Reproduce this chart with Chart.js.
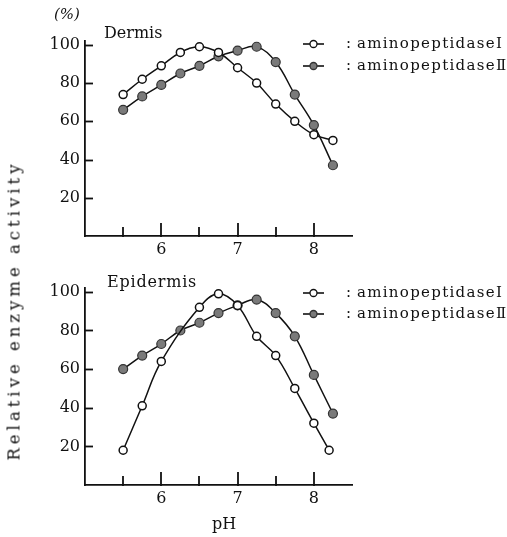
<!DOCTYPE html>
<html>
<head>
<meta charset="utf-8">
<script src="https://cdn.jsdelivr.net/npm/chart.js@4.4.0/dist/chart.umd.min.js"></script>
<style>
  body { margin: 0; background: #fff; width: 507px; height: 537px; overflow: hidden; position: relative; font-family: 'DejaVu Serif', serif; }
  canvas { position: absolute; left: 0; }
  #c1 { top: 0; }
  #c2 { top: 262px; }
  .txt { position: absolute; color: #111; white-space: nowrap; }
  #ytitle { left: -166px; top: 301px; width: 360px; text-align: center; transform: rotate(-90deg); font-size: 16.5px; letter-spacing: 4px; }
  #pct { left: 54px; top: 5px; font-size: 15px; font-style: italic; }
  #ph { left: 212px; top: 514px; font-size: 16px; }
</style>
</head>
<body>
<canvas id="c1" width="507" height="262"></canvas>
<canvas id="c2" width="507" height="275"></canvas>
<div class="txt" id="ytitle">Relative enzyme activity</div>
<div class="txt" id="pct">(%)</div>
<div class="txt" id="ph">pH</div>
<script>
// --- Data ---
const dermisPhI = [5.5, 5.75, 6.0, 6.25, 6.5, 6.75, 7.0, 7.25, 7.5, 7.75, 8.0, 8.25];
const dermisI = [74, 82, 89, 96, 99, 96, 88, 80, 69, 60, 53, 50];
const dermisPhII = [5.5, 5.75, 6.0, 6.25, 6.5, 6.75, 7.0, 7.25, 7.5, 7.75, 8.0, 8.25];
const dermisII = [66, 73, 79, 85, 89, 94, 97, 99, 91, 74, 58, 37];

const epiPhI = [5.5, 5.75, 6.0, 6.5, 6.75, 7.0, 7.25, 7.5, 7.75, 8.0, 8.2];
const epiI = [18, 41, 64, 92, 99, 93, 77, 67, 50, 32, 18];
const epiPhII = [5.5, 5.75, 6.0, 6.25, 6.5, 6.75, 7.0, 7.25, 7.5, 7.75, 8.0, 8.25];
const epiII = [60, 67, 73, 80, 84, 89, 93, 96, 89, 77, 57, 37];

const seriesNames = ['aminopeptidase\u2160', 'aminopeptidase\u2161'];
const yTickValues = [20, 40, 60, 80, 100];
const xLabelValues = [6, 7, 8];
const xTickMarks = [5.5, 6, 6.5, 7, 7.5, 8];

const FONT = "'DejaVu Serif', serif";
const INK = '#111';

function toPoints(xs, ys) {
    return xs.map((x, i) => ({ x: x, y: ys[i] }));
}

// inward tick marks, panel name and legend drawn on the canvas
const decorPlugin = {
    id: 'decor',
    afterDraw(chart, args, opts) {
        const ctx = chart.ctx;
        const xs = chart.scales.x, ys = chart.scales.y;
        const area = chart.chartArea;
        ctx.save();
        ctx.strokeStyle = INK;
        ctx.lineWidth = 1.8;
        yTickValues.forEach(v => {
            const py = Math.round(ys.getPixelForValue(v)) + 0.5;
            ctx.beginPath();
            ctx.moveTo(area.left, py);
            ctx.lineTo(area.left + 8, py);
            ctx.stroke();
        });
        xTickMarks.forEach(v => {
            const px = Math.round(xs.getPixelForValue(v));
            const len = Number.isInteger(v) ? 13 : 9;
            ctx.beginPath();
            ctx.moveTo(px, area.bottom + 1);
            ctx.lineTo(px, area.bottom - len);
            ctx.stroke();
        });

        // panel name
        ctx.fillStyle = INK;
        ctx.font = '16px ' + FONT;
        ctx.textBaseline = 'middle';
        ctx.textAlign = 'left';
        ctx.save();
        ctx.letterSpacing = opts.nameSpacing;
        ctx.fillText(opts.name, opts.nameX, opts.nameY);
        ctx.restore();

        // legend
        chart.data.datasets.forEach((ds, i) => {
            const y = opts.legendY[i];
            ctx.strokeStyle = INK;
            ctx.lineWidth = 1.6;
            ctx.beginPath();
            ctx.moveTo(303, y);
            ctx.lineTo(324, y);
            ctx.stroke();
            ctx.beginPath();
            ctx.arc(313.5, y, 3.5, 0, Math.PI * 2);
            ctx.fillStyle = ds.pointBackgroundColor;
            ctx.fill();
            ctx.lineWidth = 1.3;
            ctx.strokeStyle = ds.pointBorderColor;
            ctx.stroke();
            ctx.fillStyle = INK;
            ctx.font = '15px ' + FONT;
            ctx.fillText(':', 346, y);
            ctx.save();
            ctx.letterSpacing = '1.3px';
            ctx.fillText(ds.label, 357, y);
            ctx.restore();
        });
        ctx.restore();
    }
};

function makeChart(canvasId, dataI, dataII, cfg) {
    return new Chart(document.getElementById(canvasId), {
        type: 'line',
        data: {
            datasets: [
                {
                    label: seriesNames[0],
                    data: dataI,
                    borderColor: INK,
                    borderWidth: 1.5,
                    tension: 0.4,
                    pointRadius: 4,
                    pointBackgroundColor: '#fff',
                    pointBorderColor: INK,
                    pointBorderWidth: 1.5,
                    order: 0
                },
                {
                    label: seriesNames[1],
                    data: dataII,
                    borderColor: INK,
                    borderWidth: 1.5,
                    tension: 0.4,
                    pointRadius: 4.5,
                    pointBackgroundColor: '#7a7a7a',
                    pointBorderColor: '#333',
                    pointBorderWidth: 1.2,
                    order: 1
                }
            ]
        },
        options: {
            responsive: false,
            animation: false,
            layout: { padding: { top: cfg.top, right: cfg.right, left: 0, bottom: 0 } },
            plugins: {
                legend: { display: false },
                tooltip: { enabled: false },
                decor: cfg.decor
            },
            scales: {
                x: {
                    type: 'linear',
                    min: 5,
                    max: 8.5,
                    afterFit: s => { s.height = cfg.xHeight; },
                    afterBuildTicks: s => { s.ticks = xLabelValues.map(v => ({ value: v })); },
                    grid: { drawOnChartArea: false, drawTicks: false },
                    border: { display: true, color: INK, width: 1.8 },
                    ticks: { color: INK, padding: 4, font: { family: FONT, size: 16 } }
                },
                y: {
                    min: 0,
                    max: 102,
                    afterFit: s => { s.width = 85; },
                    afterBuildTicks: s => { s.ticks = yTickValues.map(v => ({ value: v })); },
                    grid: { drawOnChartArea: false, drawTicks: false },
                    border: { display: true, color: INK, width: 1.8 },
                    ticks: { color: INK, padding: 5, font: { family: FONT, size: 16 } }
                }
            }
        },
        plugins: [decorPlugin]
    });
}

makeChart('c1', toPoints(dermisPhI, dermisI), toPoints(dermisPhII, dermisII), {
    top: 41, right: 155, xHeight: 26,
    decor: { name: 'Dermis', nameX: 104, nameY: 34, nameSpacing: '0px', legendY: [44, 66] }
});

makeChart('c2', toPoints(epiPhI, epiI), toPoints(epiPhII, epiII), {
    top: 26, right: 155, xHeight: 52,
    decor: { name: 'Epidermis', nameX: 107, nameY: 21, nameSpacing: '0.8px', legendY: [31, 52] }
});
</script>
</body>
</html>
